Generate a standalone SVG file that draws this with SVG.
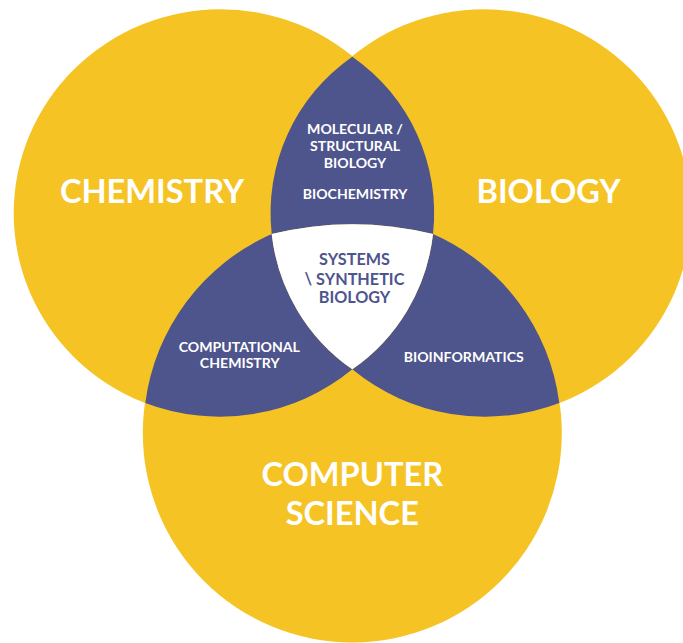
<svg xmlns="http://www.w3.org/2000/svg" width="683" height="643" viewBox="0 0 683 643">
<style>
.y{fill:#F6C324}
.p{fill:#4E548C}
.w{fill:#FFFFFF}
text{font-family:Lato,"Open Sans","Liberation Sans",sans-serif;font-weight:700;text-anchor:middle}
.big{font-size:32.6px;fill:#FFFFFF}
.sm{font-size:14.1px;fill:#FFFFFF}
.mid{font-size:16.2px;fill:#4E548C}
</style>
<rect width="683" height="643" fill="#FFFFFF"/>
<g id="chemistry">
<ellipse class="y" cx="220.5" cy="213.2" rx="206.8" ry="203.9"/>
</g>
<g id="biology">
<ellipse class="y" cx="484.1" cy="213.2" rx="206.8" ry="203.9"/>
</g>
<g id="computer-science">
<circle class="y" cx="352.3" cy="433" r="209.5"/>
</g>
<g id="molecular-biochemistry">
<path class="p" d="M352.3,56.7 A190.3,190.3 0 0 0 271.7,234 A340,340 0 0 1 433,234 A190.3,190.3 0 0 0 352.3,56.7 Z"/>
</g>
<g id="computational-chemistry">
<path class="p" d="M145.3,403 A215,215 0 0 1 271.7,234 A190.3,190.3 0 0 0 352.3,369.3 A206.8,203.9 0 0 1 145.3,403 Z"/>
</g>
<g id="bioinformatics">
<path class="p" d="M559.3,403 A215,215 0 0 0 433,234 A190.3,190.3 0 0 1 352.3,369.3 A206.8,203.9 0 0 0 559.3,403 Z"/>
</g>
<g id="systems-synthetic">
<path class="w" d="M271.7,234 A340,340 0 0 1 433,234 A190.3,190.3 0 0 1 352.3,369.3 A190.3,190.3 0 0 1 271.7,234 Z"/>
</g>
<g id="labels">
<text class="big" x="152" y="203">CHEMISTRY</text>
<text class="big" x="548.5" y="202.7">BIOLOGY</text>
<text class="big" x="352.3" y="486">COMPUTER</text>
<text class="big" x="352.3" y="525">SCIENCE</text>
<text class="sm" x="355" y="134.3">MOLECULAR /</text>
<text class="sm" x="355" y="151">STRUCTURAL</text>
<text class="sm" x="355" y="167.7">BIOLOGY</text>
<text class="sm" x="355" y="199.3">BIOCHEMISTRY</text>
<text class="mid" x="354.5" y="265">SYSTEMS</text>
<text class="mid" x="354.5" y="285">\ SYNTHETIC</text>
<text class="mid" x="354.5" y="303.3">BIOLOGY</text>
<text class="sm" x="239.3" y="351.7">COMPUTATIONAL</text>
<text class="sm" x="239.7" y="368.3">CHEMISTRY</text>
<text class="sm" x="463.7" y="361.7">BIOINFORMATICS</text>
</g>
</svg>
